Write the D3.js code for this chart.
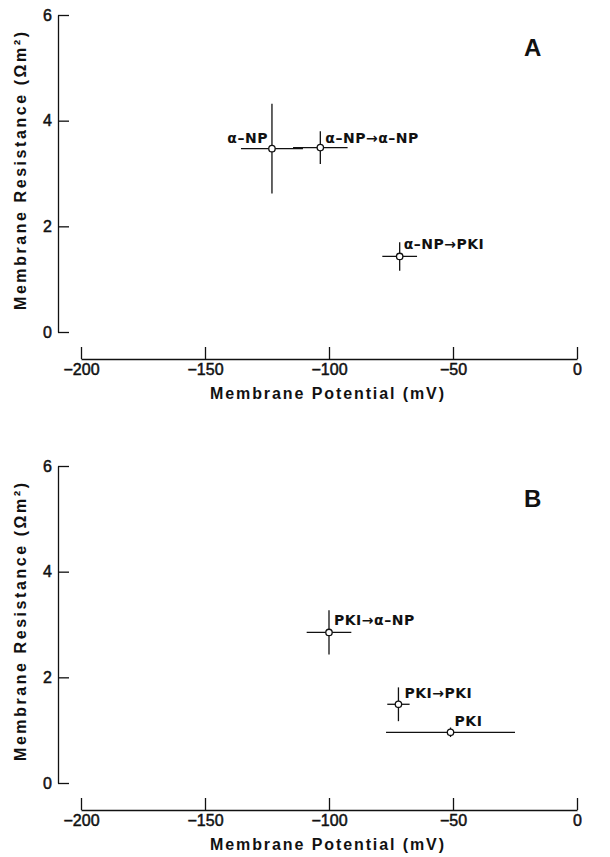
<!DOCTYPE html>
<html>
<head>
<meta charset="utf-8">
<script src="https://cdn.jsdelivr.net/npm/d3@7"></script>
<style>
  body { margin: 0; background: #fff; }
  text { font-family: "Liberation Sans", Arial, sans-serif; fill: #111; }
  .tick text { font-size: 16px; stroke: #111; stroke-width: 0.5px; }
  .axis path, .axis line { stroke: #111; stroke-width: 1.3; }
  .lbl { font-family: "DejaVu Sans", sans-serif; font-size: 14px; font-weight: bold; letter-spacing: 0.5px; }
  .title { font-size: 16px; font-weight: bold; }
  .letter { font-size: 24px; font-weight: bold; }
</style>
</head>
<body>
<script>
// panel A
var labelsA = ['\u03b1\u2013NP', '\u03b1\u2013NP\u2192\u03b1\u2013NP', '\u03b1\u2013NP\u2192PKI'];
var potA  = [-123, -103.5, -71.5];
var potErrA = [12.5, 11, 7];
var resA  = [3.47, 3.49, 1.43];
var resErrA = [0.85, 0.31, 0.27];

// panel B
var labelsB = ['PKI\u2192\u03b1\u2013NP', 'PKI\u2192PKI', 'PKI'];
var potB  = [-100, -72, -51];
var potErrB = [9, 4.5, 26];
var resB  = [2.85, 1.49, 0.96];
var resErrB = [0.42, 0.32, 0.09];

var xTicks = [-200, -150, -100, -50, 0];
var yTicks = [0, 2, 4, 6];

var width = 610, height = 857;

var svg = d3.select('body').append('svg')
  .attr('width', width)
  .attr('height', height);

function panel(top, letter, labels, pot, potErr, res, resErr, lblPos) {
  var g = svg.append('g').attr('transform', 'translate(0,' + top + ')');

  var x = d3.scaleLinear().domain([-200, 0]).range([81, 577]);
  var y = d3.scaleLinear().domain([0, 6]).range([332, 15]);

  g.append('g').attr('class', 'axis')
    .attr('transform', 'translate(58,0)')
    .call(d3.axisLeft(y).tickValues(yTicks).tickSizeInner(-11).tickSizeOuter(0).tickPadding(6)
      .tickFormat(d3.format('d')));

  g.append('g').attr('class', 'axis')
    .attr('transform', 'translate(0,359)')
    .call(d3.axisBottom(x).tickValues(xTicks).tickSizeInner(-12).tickSizeOuter(0).tickPadding(5)
      .tickFormat(function(d){ return d < 0 ? '\u2212' + Math.abs(d) : d; }));

  g.selectAll('.axis text').attr('font-family', null).attr('font-size', null);

  g.append('text').attr('class', 'title')
    .attr('text-anchor', 'middle')
    .attr('transform', 'translate(26,171) rotate(-90)')
    .attr('textLength', 278).attr('lengthAdjust', 'spacing')
    .text('Membrane Resistance (\u03a9m\u00b2)');

  g.append('text').attr('class', 'title')
    .attr('text-anchor', 'middle')
    .attr('x', 327).attr('y', 399)
    .attr('textLength', 234).attr('lengthAdjust', 'spacing')
    .text('Membrane Potential (mV)');

  g.append('text').attr('class', 'letter')
    .attr('x', 524).attr('y', 56)
    .text(letter);

  var idx = d3.range(labels.length);

  g.selectAll('.xe').data(idx).enter().append('line')
    .attr('stroke', '#111').attr('stroke-width', 1.3)
    .attr('x1', function(i){ return x(pot[i] - potErr[i]); })
    .attr('x2', function(i){ return x(pot[i] + potErr[i]); })
    .attr('y1', function(i){ return y(res[i]); })
    .attr('y2', function(i){ return y(res[i]); });

  g.selectAll('.ye').data(idx).enter().append('line')
    .attr('stroke', '#111').attr('stroke-width', 1.3)
    .attr('x1', function(i){ return x(pot[i]); })
    .attr('x2', function(i){ return x(pot[i]); })
    .attr('y1', function(i){ return y(res[i] - resErr[i]); })
    .attr('y2', function(i){ return y(res[i] + resErr[i]); });

  g.selectAll('.pt').data(idx).enter().append('circle')
    .attr('cx', function(i){ return x(pot[i]); })
    .attr('cy', function(i){ return y(res[i]); })
    .attr('r', 3.2)
    .attr('fill', '#fff').attr('stroke', '#111').attr('stroke-width', 1.3);

  g.selectAll('.lbl').data(idx).enter().append('text')
    .attr('class', 'lbl')
    .attr('text-anchor', function(i){ return lblPos[i][2]; })
    .attr('x', function(i){ return x(pot[i]) + lblPos[i][0]; })
    .attr('y', function(i){ return y(res[i]) + lblPos[i][1]; })
    .text(function(i){ return labels[i]; });
}

panel(0, 'A', labelsA, potA, potErrA, resA, resErrA,
  [[-4, -6, 'end'], [5, -5, 'start'], [4, -7, 'start']]);
panel(451, 'B', labelsB, potB, potErrB, resB, resErrB,
  [[5, -7, 'start'], [6, -6, 'start'], [4, -6, 'start']]);
</script>
</body>
</html>
